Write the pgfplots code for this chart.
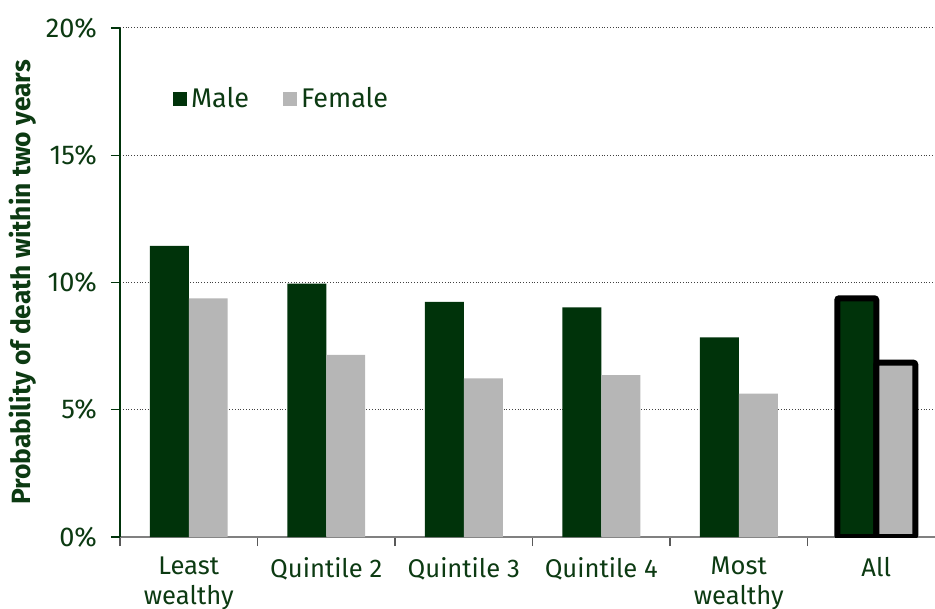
\documentclass[border=0pt]{standalone}
\usepackage{pgfplots}
\pgfplotsset{compat=1.18}
\usepackage{fontspec}
\setmainfont{Fira Sans}
\definecolor{dgreen}{RGB}{0,51,10}
\definecolor{lgray}{RGB}{182,182,182}
\definecolor{txt}{RGB}{12,58,18}
\begin{document}
\begin{tikzpicture}
\useasboundingbox (-60pt,-36pt) rectangle (407.5pt,268.5pt);
\begin{axis}[
  scale only axis, width=412.5pt, height=254.5pt,
  xmin=-0.5, xmax=5.5, ymin=0, ymax=20,
  axis x line*=bottom, axis y line*=left,
  x axis line style={draw=gray, line width=0.8pt},
  y axis line style={draw=dgreen, line width=0.8pt},
  ytick={0,5,10,15,20},
  yticklabel={\pgfmathprintnumber{\tick}\%},
  /pgf/number format/assume math mode=true,
  tick align=outside,
  major tick length=4.5pt,
  ytick style={draw=dgreen, line width=0.6pt},
  xtick={-0.5,0.5,...,5.5},
  x tick label as interval,
  xticklabels={{Least\\wealthy},{Quintile 2},{Quintile 3},{Quintile 4},{Most\\wealthy},{All}},
  xtick style={draw=gray!70!black, line width=0.6pt},
  xticklabel style={align=center, font=\fontsize{12.8}{15}\selectfont, text=txt, yshift=-2pt},
  yticklabel style={font=\fontsize{13.6}{15}\selectfont, text=txt, xshift=-3.5pt},
  ymajorgrids,
  grid style={densely dotted, black!75, line width=0.5pt},
  ylabel={Probability of death within two years},
  ylabel style={at={(axis description cs:-0.1175,0.5)}, anchor=center, font=\bfseries\fontsize{13.2}{15}\selectfont, text=txt},
  legend style={at={(axis description cs:0.064,0.8605)}, anchor=west, draw=none, fill=none, inner sep=0pt,
    legend columns=-1, font=\fontsize{13.5}{15}\selectfont, text=txt,
    /tikz/every even column/.append style={column sep=15pt}},
]
\addplot[ybar, fill=dgreen, draw=none, bar width=0.2836, bar shift=-0.1418,
  legend image code/.code={\fill[dgreen] (0pt,-3.5pt) rectangle (7pt,3.5pt);}]
  coordinates {(0,11.44) (1,9.96) (2,9.24) (3,9.02) (4,7.84)};
\addlegendentry{Male}
\addplot[ybar, fill=lgray, draw=none, bar width=0.2836, bar shift=0.1418,
  legend image code/.code={\fill[lgray] (0pt,-3.5pt) rectangle (7pt,3.5pt);}]
  coordinates {(0,9.38) (1,7.16) (2,6.23) (3,6.36) (4,5.63)};
\addlegendentry{Female}
\addplot[ybar, fill=dgreen, draw=black, line width=3pt, rounded corners=1pt, bar width=0.2836, bar shift=-0.1418, forget plot]
  coordinates {(5,9.38)};
\addplot[ybar, fill=lgray, draw=black, line width=3pt, rounded corners=1pt, bar width=0.2836, bar shift=0.1418, forget plot]
  coordinates {(5,6.85)};
\end{axis}
\end{tikzpicture}
\end{document}
